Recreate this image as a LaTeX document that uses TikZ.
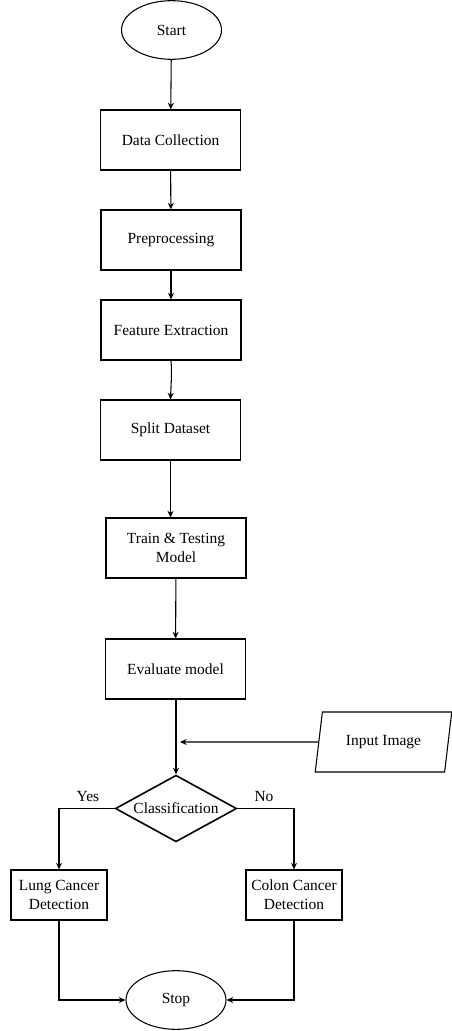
\documentclass[tikz,border=0pt]{standalone}
\usepackage{fontspec}
\setmainfont{Liberation Serif}
\usetikzlibrary{shapes.geometric,arrows.meta}
\begin{document}
\begin{tikzpicture}[x=0.75pt,y=-0.75pt,
  every node/.style={font=\fontsize{11.6}{14.5}\selectfont},
  proc/.style={draw,line width=0.8pt,minimum width=105pt,minimum height=45pt,inner sep=0pt,align=center},
  sproc/.style={draw,line width=0.8pt,minimum width=72pt,minimum height=37.5pt,inner sep=0pt,align=center},
  term/.style={draw,ellipse,line width=0.8pt,minimum width=75pt,minimum height=44pt,inner sep=0pt},
  dec/.style={draw,diamond,line width=1.2pt,minimum width=91pt,minimum height=50pt,aspect=1.8,inner sep=0pt},
  io/.style={draw,trapezium,trapezium left angle=72,trapezium right angle=108,trapezium stretches=true,line width=0.8pt,minimum width=103pt,minimum height=45pt,inner sep=0pt},
  conn/.style={line width=0.8pt,-{Stealth[length=5pt,width=4.5pt]}},
  lbl/.style={inner sep=0pt}]
\useasboundingbox (0,0) rectangle (452,1031);
\node[term] (start) at (171.5,30) {Start};
\node[proc] (dc) at (170.5,140) {Data Collection};
\node[proc] (pre) at (171,240) {Preprocessing};
\node[proc] (fe) at (171,330) {Feature Extraction};
\node[proc] (sd) at (170.5,430) {Split Dataset};
\node[proc] (tt) at (176,548) {Train \& Testing\\Model};
\node[proc] (ev) at (175.5,669) {Evaluate model};
\node[io] (inp) at (383.5,742) {Input Image};
\node[dec] (cls) at (176,808.5) {Classification};
\node[sproc] (lung) at (59,895) {Lung Cancer\\Detection};
\node[sproc] (colon) at (294,895) {Colon Cancer\\Detection};
\node[term] (stop) at (176,1000) {Stop};
\node[lbl] (yes) at (88,797) {Yes};
\node[lbl] (no) at (264,797) {No};
\coordinate (injoin) at (180,742);
\draw[conn] (start) -- (dc);
\draw[conn] (dc) -- (pre);
\draw[conn] (pre) -- (fe);
\draw[conn] (fe.south) .. controls (172,375) and (171,385) .. (sd.north);
\draw[conn] (sd) -- (sd.south |- tt.north);
\draw[conn] (tt) -- (ev);
\draw[conn] (ev.south -| cls.north) -- (cls.north);
\draw[conn] (inp.west) -- (injoin);
\draw[conn] (cls.west) -| (lung.north);
\draw[conn] (cls.east) -| (colon.north);
\draw[conn] (lung.south) |- (stop.west);
\draw[conn] (colon.south) |- (stop.east);
\end{tikzpicture}
\end{document}
